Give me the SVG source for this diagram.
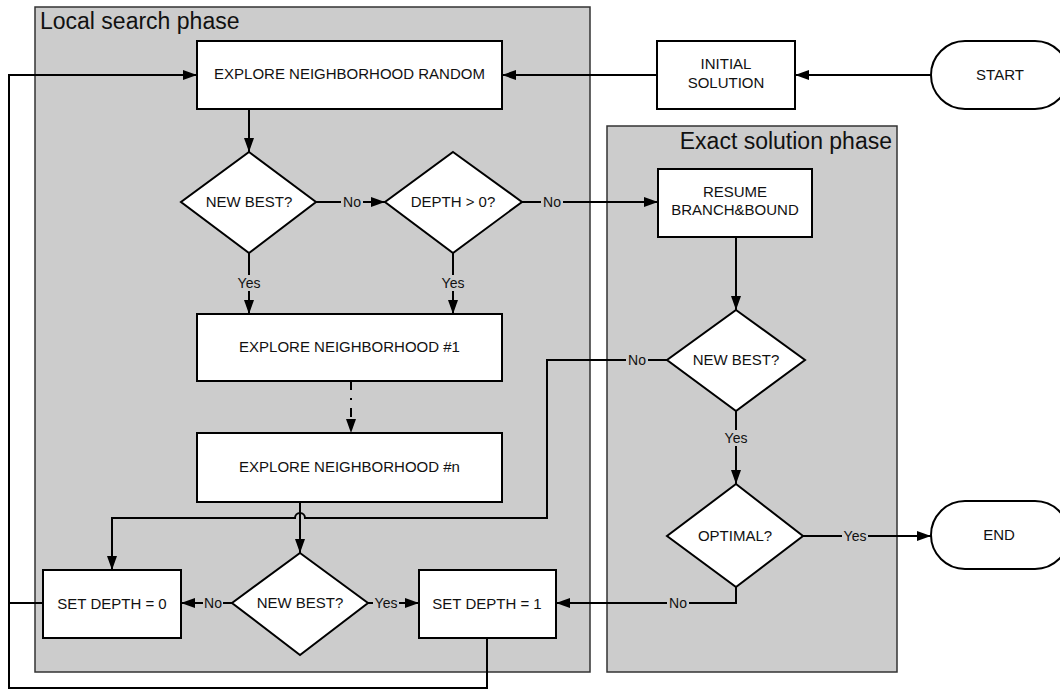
<svg xmlns="http://www.w3.org/2000/svg" width="1060" height="690" viewBox="0 0 1060 690">
<defs>
<marker id="arr" viewBox="0 0 14 10" refX="14" refY="5" markerWidth="14" markerHeight="10" markerUnits="userSpaceOnUse" orient="auto">
<path d="M0,0 L14,5 L0,10 z" fill="#000"/>
</marker>
<style>
.panel{fill:#cccccc;stroke:#333;stroke-width:1.5}
.node{fill:#fff;stroke:#000;stroke-width:2}
.t{font-family:"Liberation Sans",Arial,sans-serif;font-size:15px;fill:#111;text-anchor:middle}
.l{font-family:"Liberation Sans",Arial,sans-serif;font-size:14px;fill:#111;text-anchor:middle}
.title{font-family:"Liberation Sans",Arial,sans-serif;font-size:23px;fill:#111}
.c{fill:none;stroke:#000;stroke-width:2}
.lbg{fill:#cccccc}
</style>
</defs>
<rect width="1060" height="690" fill="#fff"/>
<g id="panel-local">
<rect class="panel" x="35" y="7" width="555" height="665"/>
<text class="title" x="40" y="29">Local search phase</text>
</g>
<g id="panel-exact">
<rect class="panel" x="607" y="126" width="290" height="546"/>
<text class="title" x="892" y="149" text-anchor="end">Exact solution phase</text>
</g>
<g id="connectors">
<path class="c" d="M931,75 L795,75" marker-end="url(#arr)"/>
<path class="c" d="M657,75 L502,75" marker-end="url(#arr)"/>
<path class="c" d="M249,109 L249,152" marker-end="url(#arr)"/>
<path class="c" d="M316,202 L385,202" marker-end="url(#arr)"/>
<path class="c" d="M522,202 L658,202" marker-end="url(#arr)"/>
<path class="c" d="M249,253 L249,314" marker-end="url(#arr)"/>
<path class="c" d="M453,253 L453,314" marker-end="url(#arr)"/>
<path class="c" d="M351,381 L351,433" stroke-dasharray="9 8 2 8" marker-end="url(#arr)"/>
<path class="c" d="M300,502 L300,553" marker-end="url(#arr)"/>
<path class="c" d="M667,360 L547,360 L547,518 L305,518 A5,5 0 0 0 295,518 L112,518 L112,570" marker-end="url(#arr)"/>
<path class="c" d="M736,237 L736,310" marker-end="url(#arr)"/>
<path class="c" d="M736,411 L736,484" marker-end="url(#arr)"/>
<path class="c" d="M803,536 L931,536" marker-end="url(#arr)"/>
<path class="c" d="M736,587 L736,603 L556,603" marker-end="url(#arr)"/>
<path class="c" d="M232,603 L181,603" marker-end="url(#arr)"/>
<path class="c" d="M368,603 L419,603" marker-end="url(#arr)"/>
<path class="c" d="M43,603 L9,603 L9,75 L197,75" marker-end="url(#arr)"/>
<path class="c" d="M487,638 L487,688 L9,688 L9,603"/>
<g id="labels">
<rect class="lbg" x="341" y="194" width="22" height="16"/><text class="l" x="352" y="207">No</text>
<rect class="lbg" x="541" y="194" width="22" height="16"/><text class="l" x="552" y="207">No</text>
<rect class="lbg" x="236" y="275" width="26" height="16"/><text class="l" x="249" y="288">Yes</text>
<rect class="lbg" x="440" y="275" width="26" height="16"/><text class="l" x="453" y="288">Yes</text>
<rect class="lbg" x="626" y="352" width="22" height="16"/><text class="l" x="637" y="365">No</text>
<rect class="lbg" x="723" y="430" width="26" height="16"/><text class="l" x="736" y="443">Yes</text>
<rect class="lbg" x="842" y="528" width="26" height="16"/><text class="l" x="855" y="541">Yes</text>
<rect class="lbg" x="667" y="595" width="22" height="16"/><text class="l" x="678" y="608">No</text>
<rect class="lbg" x="203" y="595" width="20" height="16"/><text class="l" x="213" y="608">No</text>
<rect class="lbg" x="373" y="595" width="26" height="16"/><text class="l" x="386" y="608">Yes</text>
</g>
</g>
<g id="start">
<rect class="node" x="931" y="41" width="138" height="68" rx="34"/>
<text class="t" x="1000" y="80">START</text>
</g>
<g id="initial-solution">
<rect class="node" x="657" y="41" width="138" height="68"/>
<text class="t" x="726" y="69">INITIAL</text>
<text class="t" x="726" y="88">SOLUTION</text>
</g>
<g id="explore-random">
<rect class="node" x="197" y="41" width="305" height="68"/>
<text class="t" x="349.5" y="79">EXPLORE NEIGHBORHOOD RANDOM</text>
</g>
<g id="new-best-1">
<polygon class="node" points="249,152 316,202 249,253 181,202"/>
<text class="t" x="249" y="207">NEW BEST?</text>
</g>
<g id="depth-check">
<polygon class="node" points="453,152 522,202 453,253 385,202"/>
<text class="t" x="453" y="207">DEPTH &gt; 0?</text>
</g>
<g id="resume-bb">
<rect class="node" x="658" y="169" width="154" height="68"/>
<text class="t" x="735" y="197">RESUME</text>
<text class="t" x="735" y="215">BRANCH&amp;BOUND</text>
</g>
<g id="explore-1">
<rect class="node" x="197" y="314" width="305" height="67"/>
<text class="t" x="349.5" y="352">EXPLORE NEIGHBORHOOD #1</text>
</g>
<g id="new-best-2">
<polygon class="node" points="736,310 805,360 736,411 667,360"/>
<text class="t" x="736" y="365">NEW BEST?</text>
</g>
<g id="explore-n">
<rect class="node" x="197" y="433" width="305" height="69"/>
<text class="t" x="349.5" y="472">EXPLORE NEIGHBORHOOD #n</text>
</g>
<g id="optimal">
<polygon class="node" points="736,484 803,536 736,587 667,536"/>
<text class="t" x="735" y="541">OPTIMAL?</text>
</g>
<g id="end">
<rect class="node" x="931" y="501" width="138" height="68" rx="34"/>
<text class="t" x="999" y="540">END</text>
</g>
<g id="set-depth-0">
<rect class="node" x="43" y="570" width="138" height="68"/>
<text class="t" x="112" y="609">SET DEPTH = 0</text>
</g>
<g id="new-best-3">
<polygon class="node" points="300,553 368,603 300,655 232,603"/>
<text class="t" x="300" y="608">NEW BEST?</text>
</g>
<g id="set-depth-1">
<rect class="node" x="419" y="570" width="137" height="68"/>
<text class="t" x="487" y="609">SET DEPTH = 1</text>
</g>
</svg>
